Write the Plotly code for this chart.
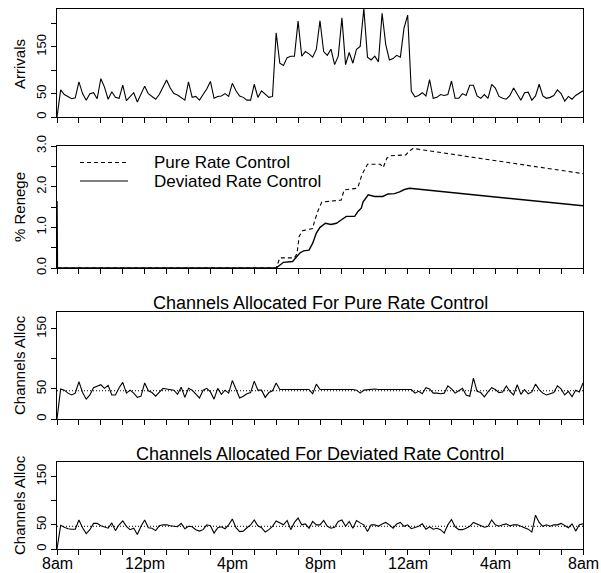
import plotly.graph_objects as go

# ---------------- data ----------------
# sample times in hours after 8am (10-minute samples)
sample_hours = [m / 60 for m in range(0, 1441, 10)]

arrivals = [0, 58, 48, 44, 39, 41, 75, 50, 36, 50,
            52, 39, 82, 64, 38, 54, 42, 40, 68, 35,
            44, 52, 32, 48, 66, 50, 44, 38, 48, 62,
            79, 62, 50, 47, 42, 36, 75, 42, 44, 36,
            48, 60, 76, 40, 44, 45, 50, 44, 72,
            56, 45, 42, 36, 36, 70, 42, 56, 48, 42, 44,
            180, 115, 110, 127, 130, 130, 205, 130, 140, 135,
            128, 145, 206, 140, 132, 145, 112, 130, 212, 112,
            138, 115, 145, 151, 232, 128, 122, 130, 118, 222,
            155, 122, 125, 132, 128, 190, 218,
            55, 43, 46, 52, 45, 80, 40, 42, 48, 46,
            48, 77, 40, 40, 50, 46, 68, 68, 45, 40,
            48, 40, 70, 62, 44, 40, 38, 46, 62, 50,
            36, 52, 53, 36, 45, 70, 45, 40, 42, 46,
            58, 50, 34, 44, 38, 46, 52, 56]

pure_renege_hours = [0, 10.0, 10.167, 10.833, 10.95, 11.05, 11.217, 11.667, 11.75, 11.917,
                     12.083, 12.967, 13.1, 13.667, 13.75, 13.917, 14.167, 14.75, 14.883,
                     15.05, 15.2, 15.917, 16.083, 16.25, 24]
pure_renege = [0, 0, 0.25, 0.25, 0.35, 0.78, 0.92, 0.97, 1.15, 1.42,
               1.62, 1.67, 1.92, 1.96, 2.02, 2.30, 2.55, 2.55, 2.47,
               2.70, 2.76, 2.78, 2.88, 2.94, 2.32]

dev_renege_hours = [0, 0.02, 10.0, 10.167, 10.333, 10.75, 10.917, 11.083, 11.25, 11.5,
                    11.667, 11.833, 12.0, 12.25, 12.5, 12.75, 12.967, 13.2, 13.583,
                    13.733, 13.883, 13.967, 14.2, 14.5, 14.867, 15.1, 15.4, 15.633,
                    15.85, 16.083, 24]
dev_renege = [1.65, 0, 0, 0.08, 0.14, 0.16, 0.27, 0.37, 0.42, 0.44,
              0.61, 0.86, 1.0, 1.10, 1.07, 1.10, 1.18, 1.27, 1.27,
              1.39, 1.47, 1.63, 1.80, 1.76, 1.76, 1.82, 1.83, 1.87,
              1.93, 1.96, 1.53]

pure_channels = [0, 50, 48, 43, 40, 43, 62, 44, 33, 40,
                 52, 55, 57, 51, 56, 40, 40, 52, 61, 43,
                 48, 43, 36, 38, 60, 47, 44, 38, 45, 51,
                 50, 49, 48, 41, 53, 36, 51, 48, 41, 35,
                 48, 51, 45, 33, 51, 41, 48, 43, 64, 48,
                 35, 38, 42, 44, 63, 48, 48, 36, 44, 47,
                 60, 49, 49, 49, 49, 48, 49, 49, 49, 49,
                 42, 58, 49, 49, 49, 49, 49, 49, 49, 49,
                 50, 49, 48, 43, 48, 49, 50, 50, 49, 49,
                 49, 49, 50, 49, 49, 49, 49, 49, 43, 46,
                 42, 52, 50, 43, 43, 42, 43, 55, 50, 43,
                 47, 51, 40, 38, 68, 46, 44, 37, 45, 52,
                 49, 44, 45, 55, 46, 40, 57, 41, 49, 42,
                 45, 58, 49, 43, 40, 42, 44, 55, 50, 40,
                 46, 37, 48, 45, 60]

dev_channels = [0, 49, 45, 42, 41, 41, 60, 44, 32, 40,
                53, 53, 48, 45, 43, 54, 38, 50, 58, 47,
                40, 43, 30, 47, 60, 44, 43, 38, 48, 50,
                50, 48, 47, 46, 53, 42, 47, 46, 40, 37,
                40, 50, 48, 33, 44, 46, 42, 50, 62, 44,
                36, 37, 44, 50, 60, 48, 44, 35, 40, 47,
                58, 54, 50, 59, 40, 55, 64, 50, 52, 43,
                57, 50, 50, 59, 47, 43, 45, 57, 60, 47,
                57, 43, 59, 54, 50, 36, 50, 50, 47, 52,
                55, 50, 43, 52, 55, 47, 50, 42, 45, 47,
                52, 41, 46, 41, 43, 40, 33, 50, 61, 46,
                40, 40, 43, 47, 55, 52, 49, 45, 47, 60,
                50, 47, 50, 52, 48, 50, 50, 47, 44, 41,
                35, 70, 55, 47, 50, 47, 50, 50, 53, 48,
                44, 52, 37, 50, 52]

target_hours = [0, 24]
pure_target = [47, 47]
dev_target = [47, 47]

time_tick_hours = list(range(25))
time_label_hours = [0, 4, 8, 12, 16, 20, 24]
time_labels = ["8am", "12pm", "4pm", "8pm", "12am", "4am", "8am"]

arr_ticks = [0, 50, 100, 150, 200]
arr_ticktext = ["0", "50", "", "150", ""]
ren_ticks = [0, 0.5, 1.0, 1.5, 2.0, 2.5, 3.0]
ren_ticktext = ["0.0", "", "1.0", "", "2.0", "", "3.0"]
ch_ticks = [0, 50, 100, 150]
ch_ticktext = ["0", "50", "", "150"]

# ---------------- layout helpers ----------------
W, H = 601, 573
FONT = "Liberation Sans, Arial, Helvetica, sans-serif"
X0, X1 = 57, 583


def ydom(top, bottom):
    return [1 - bottom / H, 1 - top / H]


xdom = [X0 / W, X1 / W]

fig = go.Figure()
line = dict(color="black", width=1.1)

fig.add_trace(go.Scatter(x=sample_hours, y=arrivals, mode="lines", line=line,
                         xaxis="x", yaxis="y", showlegend=False))
fig.add_trace(go.Scatter(x=pure_renege_hours, y=pure_renege, mode="lines",
                         line=dict(color="black", width=1.1, dash="4px,3px"),
                         xaxis="x2", yaxis="y2", showlegend=False))
fig.add_trace(go.Scatter(x=dev_renege_hours, y=dev_renege, mode="lines", line=dict(color="black", width=1.4),
                         xaxis="x2", yaxis="y2", showlegend=False))
fig.add_trace(go.Scatter(x=target_hours, y=pure_target, mode="lines",
                         line=dict(color="black", width=1, dash="1px,2px"),
                         xaxis="x3", yaxis="y3", showlegend=False))
fig.add_trace(go.Scatter(x=sample_hours, y=pure_channels, mode="lines", line=line,
                         xaxis="x3", yaxis="y3", showlegend=False))
fig.add_trace(go.Scatter(x=target_hours, y=dev_target, mode="lines",
                         line=dict(color="black", width=1, dash="1px,2px"),
                         xaxis="x4", yaxis="y4", showlegend=False))
fig.add_trace(go.Scatter(x=sample_hours, y=dev_channels, mode="lines", line=line,
                         xaxis="x4", yaxis="y4", showlegend=False))


def xax(anchor):
    return dict(domain=xdom, anchor=anchor, range=[0, 24], tickmode="array",
                tickvals=time_tick_hours, ticktext=["" for _ in time_tick_hours],
                ticks="outside", ticklen=5, tickcolor="black", tickwidth=1,
                showline=True, mirror=True, linecolor="black", linewidth=1,
                showgrid=False, zeroline=False, automargin=False,
                tickfont=dict(family=FONT, size=16, color="black"))


def yax(anchor, dom, rng, tv, tt):
    return dict(domain=dom, anchor=anchor, range=rng, tickmode="array",
                tickvals=tv, ticktext=tt, tickangle=-90,
                ticks="outside", ticklen=5, tickcolor="black", tickwidth=1,
                showline=True, mirror=True, linecolor="black", linewidth=1,
                showgrid=False, zeroline=False, automargin=False,
                tickfont=dict(family=FONT, size=13, color="black"))


fig.update_layout(
    template="none",
    width=W, height=H, margin=dict(l=0, r=0, t=0, b=0, pad=0, autoexpand=False),
    paper_bgcolor="white", plot_bgcolor="white",
    xaxis=xax("y"),
    yaxis=yax("x", ydom(9, 117), [0, 231], arr_ticks, arr_ticktext),
    xaxis2=xax("y2"),
    yaxis2=yax("x2", ydom(146, 268), [0, 3.0], ren_ticks, ren_ticktext),
    xaxis3=xax("y3"),
    yaxis3=yax("x3", ydom(312, 419), [0, 178], ch_ticks, ch_ticktext),
    xaxis4=xax("y4"),
    yaxis4=yax("x4", ydom(462, 549), [0, 180], ch_ticks, ch_ticktext),
)

ann = []
# bottom time-axis labels, placed at the bottom axis' tick positions
for h, lab in zip(time_label_hours, time_labels):
    ann.append(dict(text=lab, x=h, xref="x4", y=1 - 563 / H, yref="paper",
                    showarrow=False, xanchor="center", yanchor="middle",
                    font=dict(family=FONT, size=16, color="black")))
for txt, yc in [("Arrivals", 64), ("% Renege", 207), ("Channels Alloc", 365), ("Channels Alloc", 505)]:
    ann.append(dict(text=txt, x=19 / W, y=1 - yc / H, xref="paper", yref="paper",
                    textangle=-90, showarrow=False, xanchor="center", yanchor="middle",
                    font=dict(family=FONT, size=15, color="black")))
ann.append(dict(text="Channels Allocated For Pure Rate Control", x=320 / W, y=1 - 302.5 / H,
                xref="paper", yref="paper", showarrow=False, xanchor="center", yanchor="middle",
                font=dict(family=FONT, size=18, color="black")))
ann.append(dict(text="Channels Allocated For Deviated Rate Control", x=320 / W, y=1 - 454 / H,
                xref="paper", yref="paper", showarrow=False, xanchor="center", yanchor="middle",
                font=dict(family=FONT, size=18, color="black")))
# legend in the renege panel
legend_items = [("Pure Rate Control", 162.5, "4px,3px"), ("Deviated Rate Control", 181, "solid")]
shapes = []
for txt, yc, dash in legend_items:
    ann.append(dict(text=txt, x=152 / W, y=1 - yc / H, xref="paper", yref="paper",
                    showarrow=False, xanchor="left", yanchor="middle",
                    font=dict(family=FONT, size=17, color="black")))
    shapes.append(dict(type="line", xref="paper", yref="paper", x0=80 / W, x1=128 / W,
                       y0=1 - yc / H, y1=1 - yc / H, line=dict(color="black", width=1.1, dash=dash)))

fig.update_layout(annotations=ann, shapes=shapes)
fig.write_html("out.html")
